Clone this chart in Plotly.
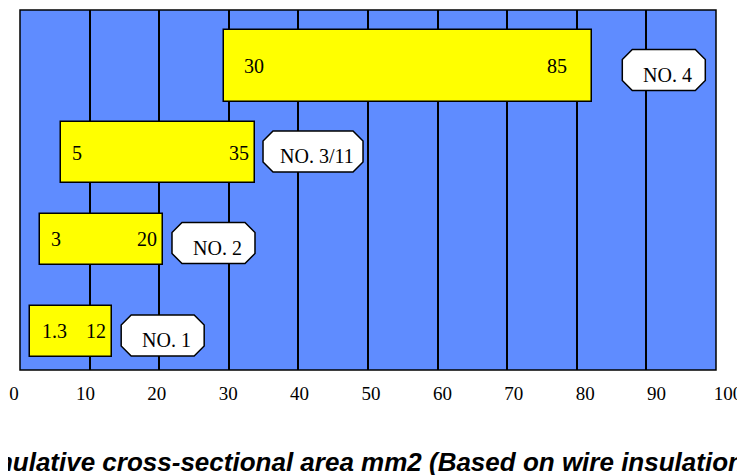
import plotly.graph_objects as go

# ---- data ----
categories = ["NO. 1", "NO. 2", "NO. 3/11", "NO. 4"]
bar_start = [1.4, 2.9, 5.9, 29.3]
bar_end = [13.2, 20.5, 33.8, 82.2]
start_labels = ["1.3", "3", "5", "30"]
end_labels = ["12", "20", "35", "85"]
tick_vals = [0, 10, 20, 30, 40, 50, 60, 70, 80, 90, 100]
tick_text = [str(v) for v in tick_vals]
axis_title = "Cumulative cross-sectional area mm2 (Based on wire insulation outer diameter)"

# ---- layout constants (positions / sizes) ----
row_center = [39, 131, 217.5, 304]
row_height = [51, 51, 61, 72]
start_pad = [10, 9, 9, 18]
end_pad = [4, 4, 4, 23]
callout_x = [20.5, 27.8, 42.1, 92.5]
callout_y = [34.5, 127, 218.5, 300]
callout_w = [83, 83, 100, 83]
callout_h = 41
corner = 10

BLUE = "#5F8CFF"
SERIF = "Liberation Serif"
FS = 20

fig = go.Figure()
fig.add_trace(go.Bar(
    orientation="h",
    y=row_center,
    x=[e - s for s, e in zip(bar_start, bar_end)],
    base=bar_start,
    width=row_height,
    marker=dict(color="#FFFF00", line=dict(color="black", width=1.5)),
    hoverinfo="skip",
    showlegend=False,
))
# dummy trace so the label axis is drawn
fig.add_trace(go.Scatter(x=[None], y=[None], xaxis="x2", yaxis="y",
                         showlegend=False, hoverinfo="skip"))

shapes = [dict(type="rect", xref="x domain", yref="y domain", x0=0, x1=1, y0=0, y1=1,
               fillcolor=BLUE, line=dict(color="black", width=1.5), layer="below")]


def octagon(w, h, c):
    a, b = w / 2, h / 2
    pts = [(-a + c, b), (a - c, b), (a, b - c), (a, -b + c), (a - c, -b),
           (-a + c, -b), (-a, -b + c), (-a, b - c)]
    return "M " + " L ".join(f"{x},{y}" for x, y in pts) + " Z"


annotations = []
for i, cat in enumerate(categories):
    shapes.append(dict(type="path", xref="x", yref="y", xsizemode="pixel", ysizemode="pixel",
                       xanchor=callout_x[i], yanchor=callout_y[i],
                       path=octagon(callout_w[i], callout_h, corner),
                       fillcolor="white", line=dict(color="black", width=1.5), layer="above"))
    annotations.append(dict(x=callout_x[i], y=callout_y[i], xref="x", yref="y", text=cat,
                            showarrow=False, xshift=4, yshift=-4.5,
                            font=dict(family=SERIF, size=FS, color="black")))
    annotations.append(dict(x=bar_start[i], y=row_center[i], xref="x", yref="y",
                            text=start_labels[i], showarrow=False, xanchor="left",
                            xshift=start_pad[i], font=dict(family=SERIF, size=FS, color="black")))
    annotations.append(dict(x=bar_end[i], y=row_center[i], xref="x", yref="y",
                            text=end_labels[i], showarrow=False, xanchor="right",
                            xshift=-end_pad[i], font=dict(family=SERIF, size=FS, color="black")))

annotations.append(dict(x=-0.0854, y=-0.2556, xref="paper", yref="paper",
                        text="<b><i>" + axis_title + "</i></b>",
                        showarrow=False, xanchor="left", yanchor="middle",
                        font=dict(family="Liberation Sans", size=26, color="black")))

# the page shows the figure 8px in from the top-left corner, so the figure is
# sized to fill exactly the 745x475 window from there
fig.update_layout(
    width=737, height=467,
    margin=dict(l=6, r=17, t=2, b=105),
    paper_bgcolor="white",
    plot_bgcolor="rgba(0,0,0,0)",
    bargap=0,
    xaxis=dict(domain=[6 / 714, 702 / 714], range=[0, 100], dtick=10, showgrid=True,
               gridcolor="black", gridwidth=1.5, showticklabels=False, zeroline=False,
               showline=False, ticks="", fixedrange=True),
    xaxis2=dict(domain=[0, 1], range=[0, 100], anchor="free", position=0,
                tickvals=tick_vals, ticktext=tick_text, showgrid=False, zeroline=False,
                showline=False, ticks="", ticklabelstandoff=10,
                tickfont=dict(family=SERIF, size=19, color="black")),
    yaxis=dict(domain=[0, 1], range=[0, 360], showgrid=False, zeroline=False,
               showticklabels=False, showline=False, ticks=""),
    shapes=shapes,
    annotations=annotations,
    showlegend=False,
)

fig.write_html("out.html")
